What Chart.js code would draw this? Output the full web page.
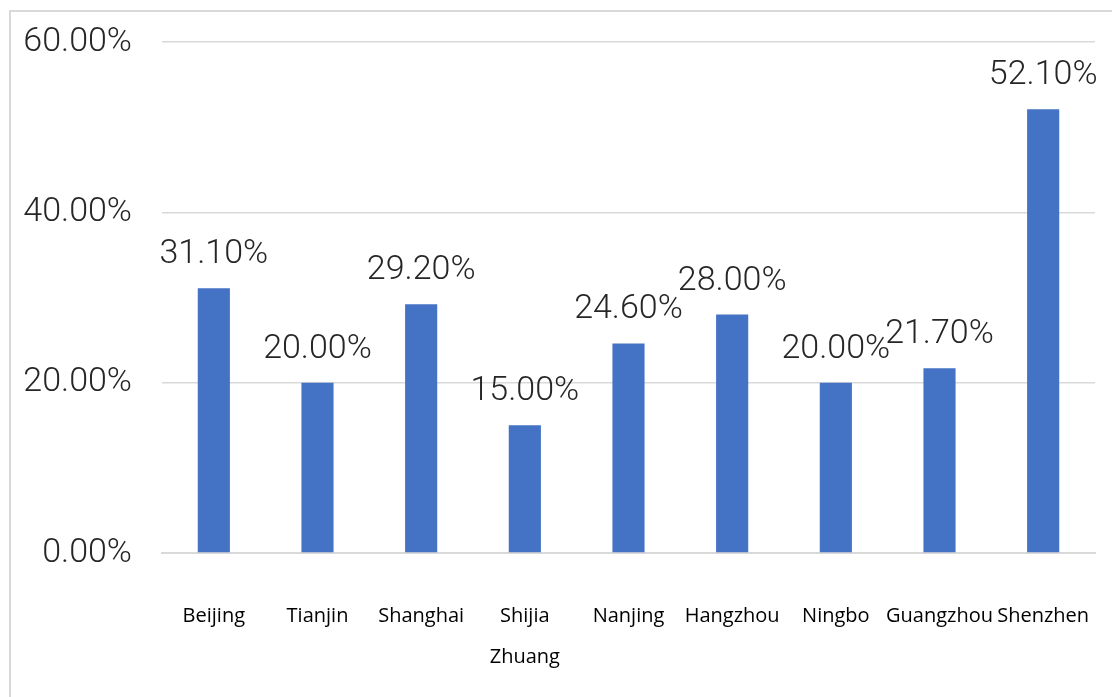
<!DOCTYPE html>
<html>
<head>
<meta charset="utf-8">
<script src="https://cdn.jsdelivr.net/npm/chart.js@4/dist/chart.umd.min.js"></script>
<style>
  html, body { margin: 0; padding: 0; background: #fff; overflow: hidden; }
  #c { display: block; }
</style>
</head>
<body>
<canvas id="c" width="1112" height="697"></canvas>
<script>
const categories = ["Beijing", "Tianjin", "Shanghai", ["Shijia", "Zhuang"], "Nanjing", "Hangzhou", "Ningbo", "Guangzhou", "Shenzhen"];
const values = [31.1, 20.0, 29.2, 15.0, 24.6, 28.0, 20.0, 21.7, 52.1];
const yTicks = [0, 20, 40, 60];

const numFont = { family: 'Roboto, "Liberation Sans", sans-serif', size: 34, weight: 300 };

const frame = {
  id: 'frame',
  beforeDraw(chart) {
    const ctx = chart.ctx;
    ctx.save();
    ctx.fillStyle = '#fff';
    ctx.fillRect(0, 0, chart.width, chart.height);
    ctx.strokeStyle = '#d9d9d9';
    ctx.lineWidth = 2;
    ctx.beginPath();
    ctx.moveTo(10, chart.height);
    ctx.lineTo(10, 11);
    ctx.lineTo(chart.width, 11);
    ctx.stroke();
    ctx.restore();
  }
};

const barLabels = {
  id: 'barLabels',
  afterDatasetsDraw(chart) {
    const ctx = chart.ctx;
    const meta = chart.getDatasetMeta(0);
    ctx.save();
    ctx.font = numFont.weight + ' ' + numFont.size + 'px ' + numFont.family;
    ctx.fillStyle = '#262626';
    ctx.textAlign = 'center';
    ctx.textBaseline = 'alphabetic';
    meta.data.forEach((bar, i) => {
      ctx.fillText(values[i].toFixed(2) + '%', bar.x, bar.y - 25);
    });
    ctx.restore();
  }
};

new Chart(document.getElementById('c'), {
  type: 'bar',
  data: {
    labels: categories,
    datasets: [{
      data: values,
      backgroundColor: '#4472C4',
      barPercentage: 0.31,
      categoryPercentage: 1.0
    }]
  },
  options: {
    responsive: false,
    animation: false,
    layout: { padding: { top: 42, right: 17, bottom: 0, left: 0 } },
    plugins: { legend: { display: false }, tooltip: { enabled: false } },
    scales: {
      x: {
        grid: { display: false, drawTicks: false },
        border: { display: true, color: '#d9d9d9', width: 2 },
        ticks: {
          color: '#000',
          padding: 43,
          maxRotation: 0,
          autoSkip: false,
          font: { family: '"Open Sans", "Noto Sans", sans-serif', size: 20, lineHeight: 2.05 }
        },
        afterFit(s) { s.height = 144; s.paddingLeft = 0; s.paddingRight = 0; }
      },
      y: {
        min: 0,
        max: 60,
        afterBuildTicks(s) { s.ticks = yTicks.map(v => ({ value: v })); },
        grid: { color: '#d9d9d9', lineWidth: 1.5, drawTicks: false },
        border: { display: false },
        ticks: {
          color: '#262626',
          padding: 30,
          font: numFont,
          callback: v => v.toFixed(2) + '%'
        },
        afterFit(s) { s.width = 162; s.paddingTop = 0; s.paddingBottom = 0; }
      }
    }
  },
  plugins: [frame, barLabels]
});
</script>
</body>
</html>
